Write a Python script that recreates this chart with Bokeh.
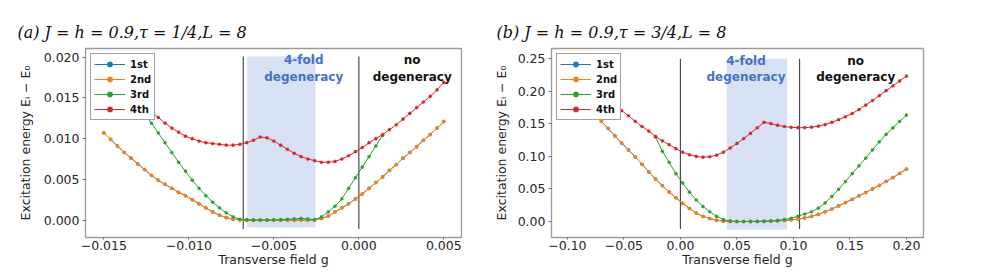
from bokeh.plotting import figure
from bokeh.layouts import row
from bokeh.models import (Range1d, FixedTicker, CustomJSTickFormatter, Label,
                          Legend, LegendItem)
from bokeh.embed import file_html
from bokeh.resources import INLINE

# ---------------- data: panel (a) ----------------
g_a = [-0.0150, -0.0146, -0.0142, -0.0138, -0.0134, -0.0130, -0.0126, -0.0122, -0.0118, -0.0114,
       -0.0110, -0.0106, -0.0102, -0.0098, -0.0094, -0.0090, -0.0086, -0.0082, -0.0078, -0.0074,
       -0.0070, -0.0066, -0.0062, -0.0058, -0.0054, -0.0050, -0.0046, -0.0042, -0.0038, -0.0034,
       -0.0030, -0.0026, -0.0022, -0.0018, -0.0014, -0.0010, -0.0006, -0.0002, 0.0002, 0.0006,
       0.0010, 0.0014, 0.0018, 0.0022, 0.0026, 0.0030, 0.0034, 0.0038, 0.0042, 0.0046, 0.0050]
second_a = [0.0107, 0.0099, 0.0091, 0.0083, 0.0076, 0.0069, 0.0062, 0.0055, 0.0049, 0.0044,
            0.0039, 0.0034, 0.0030, 0.0025, 0.0020, 0.0015, 0.0010, 0.0006, 0.0003, 0.0001,
            0.00003, 0.0, 0.0, 0.0, 0.0, 0.0, 0.0, 0.0, 0.0, 0.0,
            0.0, 0.00002, 0.0002, 0.0005, 0.0010, 0.0015, 0.0020, 0.0026, 0.0032, 0.0039,
            0.0046, 0.0053, 0.0061, 0.0068, 0.0076, 0.0083, 0.0090, 0.0098, 0.0105, 0.0113, 0.0121]
first_a = second_a
third_a_start, third_a_end = 6, 42
third_a = [0.0131, 0.0119, 0.0107, 0.0095, 0.0083, 0.0071, 0.0060, 0.0049, 0.0039, 0.0030,
           0.0022, 0.0015, 0.0009, 0.0004, 0.0001, 0.00003, 0.0, 0.0, 0.0, 0.00003,
           0.00005, 0.0001, 0.00015, 0.0002, 0.00015, 0.00003, 0.0004, 0.0010, 0.0017, 0.0026,
           0.0039, 0.0052, 0.0065, 0.0078, 0.0091, 0.0104]
fourth_a_start = 7
fourth_a = [0.0133, 0.0126, 0.0119, 0.0113, 0.0108, 0.0103, 0.0100, 0.0097, 0.0095, 0.0094,
            0.0093, 0.0092, 0.0092, 0.0093, 0.0095, 0.0098, 0.0102, 0.0101, 0.0097, 0.0092,
            0.0087, 0.0082, 0.0078, 0.0075, 0.0073, 0.0071, 0.0071, 0.0072, 0.0075, 0.0079,
            0.0084, 0.0089, 0.0095, 0.0100, 0.0105, 0.0111, 0.0117, 0.0124, 0.0131, 0.0138,
            0.0145, 0.0152, 0.0160, 0.0169]
bounds_a = [-0.0068, 0.0]
vline_a_y = [-0.0011, 0.0201]
shade_a = [-0.00657, -0.00255]
shade_a_y = [-0.0009, 0.0201]
xticks_a = [-0.015, -0.010, -0.005, 0.0, 0.005]
yticks_a = [0.0, 0.005, 0.010, 0.015, 0.020]

# ---------------- data: panel (b) ----------------
g_b = [-0.100, -0.094, -0.088, -0.082, -0.076, -0.070, -0.064, -0.058, -0.052, -0.046,
       -0.040, -0.034, -0.028, -0.022, -0.016, -0.010, -0.004, 0.002, 0.008, 0.014,
       0.020, 0.026, 0.032, 0.038, 0.044, 0.050, 0.056, 0.062, 0.068, 0.074,
       0.080, 0.086, 0.092, 0.098, 0.104, 0.110, 0.116, 0.122, 0.128, 0.134,
       0.140, 0.146, 0.152, 0.158, 0.164, 0.170, 0.176, 0.182, 0.188, 0.194, 0.200]
second_b_start = 4
second_b = [0.1650, 0.1540, 0.1430, 0.1315, 0.1205, 0.1100, 0.0992, 0.0880, 0.0762, 0.0652,
            0.0550, 0.0455, 0.0365, 0.0280, 0.0200, 0.0130, 0.0078, 0.0045, 0.0020, 0.0005,
            0.0001, 0.0, 0.0, 0.0001, 0.0002, 0.0004, 0.0007, 0.0011, 0.0016, 0.0025,
            0.0037, 0.0055, 0.0078, 0.0108, 0.0148, 0.0192, 0.0240, 0.0290, 0.0340, 0.0395,
            0.0445, 0.0500, 0.0555, 0.0615, 0.0675, 0.0740, 0.0805]
first_b = second_b
third_b_start = 13
third_b = [0.1300, 0.1080, 0.0910, 0.0735, 0.0590, 0.0450, 0.0330, 0.0230, 0.0150, 0.0080,
           0.0030, 0.0008, 0.0001, 0.0, 0.0, 0.0, 0.0003, 0.0008, 0.0016, 0.0030,
           0.0050, 0.0080, 0.0115, 0.0150, 0.0205, 0.0285, 0.0385, 0.0495, 0.0615, 0.0735,
           0.0855, 0.0975, 0.1100, 0.1225, 0.1340, 0.1440, 0.1540, 0.1635]
fourth_b_start = 8
fourth_b = [0.1705, 0.1625, 0.1540, 0.1460, 0.1390, 0.1305, 0.1240, 0.1180, 0.1120, 0.1065,
            0.1025, 0.1000, 0.0988, 0.0995, 0.1020, 0.1065, 0.1130, 0.1200, 0.1275, 0.1355,
            0.1440, 0.1525, 0.1505, 0.1480, 0.1460, 0.1448, 0.1442, 0.1443, 0.1450, 0.1465,
            0.1490, 0.1525, 0.1565, 0.1610, 0.1660, 0.1720, 0.1790, 0.1860, 0.1935, 0.2010,
            0.2085, 0.2160, 0.2235]
bounds_b = [0.0, 0.1054]
vline_b_y = [-0.0117, 0.25]
shade_b = [0.041, 0.0945]
shade_b_y = [-0.0128, 0.25]
xticks_b = [-0.10, -0.05, 0.0, 0.05, 0.10, 0.15, 0.20]
yticks_b = [0.0, 0.05, 0.10, 0.15, 0.20, 0.25]

labels = ["1st", "2nd", "3rd", "4th"]
colors = ["#1f77b4", "#ff7f0e", "#2ca02c", "#d62728"]

TICK_FONT = "12.5px"
TXT = "#262626"
H = 273


def fmt(nd):
    return CustomJSTickFormatter(code="return tick.toFixed(%d).replace('-', '\\u2212')" % nd)


def panel(width, border_l, border_r, xr, yr, xticks, yticks, nd_x, nd_y,
          series, bounds, vy, shade, shade_y, title, title_offset,
          fold_x, nodeg_x, y_top1, y_top2, ylab_standoff):
    p = figure(width=width, height=H, x_range=Range1d(*xr), y_range=Range1d(*yr),
               output_backend="svg", toolbar_location=None,
               min_border_left=border_l, min_border_right=border_r,
               min_border_top=48, min_border_bottom=36)
    p.title.text = title
    p.title.align = "left"
    p.title.offset = title_offset
    p.title.standoff = 14
    p.title.text_font = "DejaVu Serif"
    p.title.text_font_style = "italic"
    p.title.text_font_size = "16px"
    p.title.text_color = "#111111"

    p.xgrid.visible = False
    p.ygrid.visible = False
    p.outline_line_color = "#9a9a9a"
    p.outline_line_width = 1.3
    p.background_fill_color = "white"
    p.border_fill_color = "white"

    for ax in (p.xaxis[0], p.yaxis[0]):
        ax.axis_line_color = None
        ax.major_tick_line_color = "#6a6a6a"
        ax.minor_tick_line_color = None
        ax.major_tick_in = 0
        ax.major_label_text_font = "DejaVu Sans"
        ax.major_label_text_font_size = TICK_FONT
        ax.major_label_text_color = TXT
        ax.axis_label_text_font = "DejaVu Sans"
        ax.axis_label_text_font_size = TICK_FONT
        ax.axis_label_text_font_style = "normal"
        ax.axis_label_text_color = TXT
    p.xaxis.ticker = FixedTicker(ticks=xticks)
    p.yaxis.ticker = FixedTicker(ticks=yticks)
    p.xaxis.formatter = fmt(nd_x)
    p.yaxis.formatter = fmt(nd_y)
    p.xaxis.major_tick_out = 2
    p.yaxis.major_tick_out = 3
    p.xaxis.major_label_standoff = 1
    p.xaxis.axis_label_standoff = -1
    p.yaxis.major_label_standoff = 3
    p.yaxis.axis_label_standoff = ylab_standoff
    p.xaxis.axis_label = "Transverse field g"
    p.yaxis.axis_label = "Excitation energy E\u1d62 \u2212 E\u2080"

    # shaded degenerate region and boundaries
    p.quad(left=[shade[0]], right=[shade[1]], bottom=[shade_y[0]], top=[shade_y[1]],
           fill_color="#d8e1f3", line_color=None)
    p.segment(x0=bounds, x1=bounds, y0=[vy[0]] * len(bounds), y1=[vy[1]] * len(bounds),
              line_color="#4a4a4a", line_width=1.2)

    items = []
    for (xs, ys), lab, col in zip(series, labels, colors):
        lr = p.line(xs, ys, line_color=col, line_width=1.0)
        sr = p.scatter(xs, ys, size=3.2, fill_color=col, line_color=col, line_width=0.3)
        items.append(LegendItem(label=lab, renderers=[lr, sr]))

    leg = Legend(items=items, location="top_left")
    leg.margin = 5
    leg.padding = 3
    leg.spacing = 1
    leg.glyph_width = 31
    leg.glyph_height = 14
    leg.label_height = 12
    leg.label_standoff = 5
    leg.label_text_font = "DejaVu Sans"
    leg.label_text_font_style = "bold"
    leg.label_text_font_size = "10px"
    leg.label_text_color = "#111111"
    leg.border_line_color = "#444444"
    leg.border_line_width = 1
    leg.background_fill_color = "white"
    leg.background_fill_alpha = 1.0
    p.add_layout(leg)

    # region annotations
    for txt, x, y, col in [("4-fold", fold_x, y_top1, "#4472c4"),
                           ("degeneracy", fold_x, y_top2, "#4472c4"),
                           ("no", nodeg_x, y_top1, "#111111"),
                           ("degeneracy", nodeg_x, y_top2, "#111111")]:
        p.add_layout(Label(x=x, y=y, text=txt, text_align="center", text_baseline="middle",
                           text_font="DejaVu Sans", text_font_style="bold",
                           text_font_size="12px", text_color=col))
    return p


series_a = [
    (g_a, first_a),
    (g_a, second_a),
    (g_a[third_a_start:third_a_end], third_a),
    (g_a[fourth_a_start:], fourth_a),
]
series_b = [
    (g_b[second_b_start:], first_b),
    (g_b[second_b_start:], second_b),
    (g_b[third_b_start:], third_b),
    (g_b[fourth_b_start:], fourth_b),
]

pa = panel(490, 85, 29, (-0.01608, 0.00604), (-0.00214, 0.02107), xticks_a, yticks_a, 3, 3,
           series_a, bounds_a, vline_a_y, shade_a, shade_a_y,
           "(a) J = h = 0.9,\u03c4 = 1/4,L = 8", -68,
           -0.00324, 0.00314, 0.0196, 0.01763, 8)
pb = panel(491, 58, 58, (-0.1141, 0.2151), (-0.0246, 0.2659), xticks_b, yticks_b, 2, 2,
           series_b, bounds_b, vline_b_y, shade_b, shade_b_y,
           "(b) J = h = 0.9,\u03c4 = 3/4,L = 8", -55,
           0.058, 0.1551, 0.2474, 0.2228, 6)

layout = row(pa, pb)
open("out.html", "w").write(file_html(layout, INLINE))
